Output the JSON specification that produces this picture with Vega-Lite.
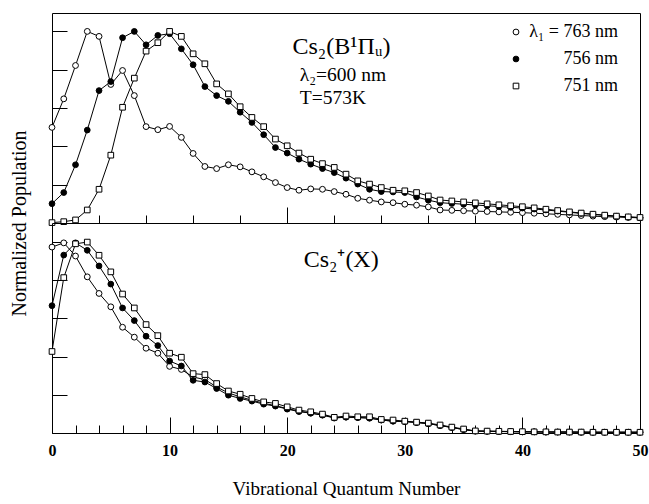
{
"$schema": "https://vega.github.io/schema/vega-lite/v6.json",
"padding": {"left": 8, "top": 12, "right": 0, "bottom": 0},
"config": {"font": "Liberation Serif", "view": {"stroke": "black", "strokeWidth": 1}, "axis": {"domain": false, "grid": false, "tickColor": "black", "tickWidth": 1}},
"data": {"values": [
{"p":"B","s":"763","v":0,"y":0.499},{"p":"B","s":"763","v":1,"y":0.648},{"p":"B","s":"763","v":2,"y":0.822},{"p":"B","s":"763","v":3,"y":1.0},{"p":"B","s":"763","v":4,"y":0.974},{"p":"B","s":"763","v":5,"y":0.723},{"p":"B","s":"763","v":6,"y":0.796},{"p":"B","s":"763","v":7,"y":0.665},{"p":"B","s":"763","v":8,"y":0.503},{"p":"B","s":"763","v":9,"y":0.487},{"p":"B","s":"763","v":10,"y":0.504},{"p":"B","s":"763","v":11,"y":0.447},{"p":"B","s":"763","v":12,"y":0.363},{"p":"B","s":"763","v":13,"y":0.295},{"p":"B","s":"763","v":14,"y":0.284},{"p":"B","s":"763","v":15,"y":0.304},{"p":"B","s":"763","v":16,"y":0.293},{"p":"B","s":"763","v":17,"y":0.267},{"p":"B","s":"763","v":18,"y":0.241},{"p":"B","s":"763","v":19,"y":0.211},{"p":"B","s":"763","v":20,"y":0.185},{"p":"B","s":"763","v":21,"y":0.171},{"p":"B","s":"763","v":22,"y":0.178},{"p":"B","s":"763","v":23,"y":0.176},{"p":"B","s":"763","v":24,"y":0.164},{"p":"B","s":"763","v":25,"y":0.150},{"p":"B","s":"763","v":26,"y":0.129},{"p":"B","s":"763","v":27,"y":0.119},{"p":"B","s":"763","v":28,"y":0.110},{"p":"B","s":"763","v":29,"y":0.106},{"p":"B","s":"763","v":30,"y":0.098},{"p":"B","s":"763","v":31,"y":0.093},{"p":"B","s":"763","v":32,"y":0.084},{"p":"B","s":"763","v":33,"y":0.068},{"p":"B","s":"763","v":34,"y":0.066},{"p":"B","s":"763","v":35,"y":0.064},{"p":"B","s":"763","v":36,"y":0.062},{"p":"B","s":"763","v":37,"y":0.060},{"p":"B","s":"763","v":38,"y":0.058},{"p":"B","s":"763","v":39,"y":0.056},{"p":"B","s":"763","v":40,"y":0.054},{"p":"B","s":"763","v":41,"y":0.051},{"p":"B","s":"763","v":42,"y":0.048},{"p":"B","s":"763","v":43,"y":0.045},{"p":"B","s":"763","v":44,"y":0.042},{"p":"B","s":"763","v":45,"y":0.039},{"p":"B","s":"763","v":46,"y":0.036},{"p":"B","s":"763","v":47,"y":0.033},{"p":"B","s":"763","v":48,"y":0.031},{"p":"B","s":"763","v":49,"y":0.029},{"p":"B","s":"763","v":50,"y":0.027},
{"p":"B","s":"756","v":0,"y":0.101},{"p":"B","s":"756","v":1,"y":0.159},{"p":"B","s":"756","v":2,"y":0.304},{"p":"B","s":"756","v":3,"y":0.485},{"p":"B","s":"756","v":4,"y":0.691},{"p":"B","s":"756","v":5,"y":0.738},{"p":"B","s":"756","v":6,"y":0.967},{"p":"B","s":"756","v":7,"y":1.0},{"p":"B","s":"756","v":8,"y":0.93},{"p":"B","s":"756","v":9,"y":0.979},{"p":"B","s":"756","v":10,"y":0.988},{"p":"B","s":"756","v":11,"y":0.909},{"p":"B","s":"756","v":12,"y":0.826},{"p":"B","s":"756","v":13,"y":0.712},{"p":"B","s":"756","v":14,"y":0.665},{"p":"B","s":"756","v":15,"y":0.635},{"p":"B","s":"756","v":16,"y":0.578},{"p":"B","s":"756","v":17,"y":0.525},{"p":"B","s":"756","v":18,"y":0.461},{"p":"B","s":"756","v":19,"y":0.394},{"p":"B","s":"756","v":20,"y":0.365},{"p":"B","s":"756","v":21,"y":0.333},{"p":"B","s":"756","v":22,"y":0.307},{"p":"B","s":"756","v":23,"y":0.284},{"p":"B","s":"756","v":24,"y":0.263},{"p":"B","s":"756","v":25,"y":0.234},{"p":"B","s":"756","v":26,"y":0.203},{"p":"B","s":"756","v":27,"y":0.176},{"p":"B","s":"756","v":28,"y":0.164},{"p":"B","s":"756","v":29,"y":0.162},{"p":"B","s":"756","v":30,"y":0.159},{"p":"B","s":"756","v":31,"y":0.136},{"p":"B","s":"756","v":32,"y":0.119},{"p":"B","s":"756","v":33,"y":0.106},{"p":"B","s":"756","v":34,"y":0.102},{"p":"B","s":"756","v":35,"y":0.098},{"p":"B","s":"756","v":36,"y":0.094},{"p":"B","s":"756","v":37,"y":0.090},{"p":"B","s":"756","v":38,"y":0.086},{"p":"B","s":"756","v":39,"y":0.082},{"p":"B","s":"756","v":40,"y":0.078},{"p":"B","s":"756","v":41,"y":0.073},{"p":"B","s":"756","v":42,"y":0.068},{"p":"B","s":"756","v":43,"y":0.062},{"p":"B","s":"756","v":44,"y":0.056},{"p":"B","s":"756","v":45,"y":0.050},{"p":"B","s":"756","v":46,"y":0.045},{"p":"B","s":"756","v":47,"y":0.040},{"p":"B","s":"756","v":48,"y":0.035},{"p":"B","s":"756","v":49,"y":0.031},{"p":"B","s":"756","v":50,"y":0.028},
{"p":"B","s":"751","v":0,"y":0.002},{"p":"B","s":"751","v":1,"y":0.007},{"p":"B","s":"751","v":2,"y":0.016},{"p":"B","s":"751","v":3,"y":0.068},{"p":"B","s":"751","v":4,"y":0.176},{"p":"B","s":"751","v":5,"y":0.354},{"p":"B","s":"751","v":6,"y":0.604},{"p":"B","s":"751","v":7,"y":0.756},{"p":"B","s":"751","v":8,"y":0.897},{"p":"B","s":"751","v":9,"y":0.941},{"p":"B","s":"751","v":10,"y":1.0},{"p":"B","s":"751","v":11,"y":0.974},{"p":"B","s":"751","v":12,"y":0.883},{"p":"B","s":"751","v":13,"y":0.831},{"p":"B","s":"751","v":14,"y":0.726},{"p":"B","s":"751","v":15,"y":0.674},{"p":"B","s":"751","v":16,"y":0.607},{"p":"B","s":"751","v":17,"y":0.551},{"p":"B","s":"751","v":18,"y":0.503},{"p":"B","s":"751","v":19,"y":0.438},{"p":"B","s":"751","v":20,"y":0.403},{"p":"B","s":"751","v":21,"y":0.365},{"p":"B","s":"751","v":22,"y":0.333},{"p":"B","s":"751","v":23,"y":0.31},{"p":"B","s":"751","v":24,"y":0.29},{"p":"B","s":"751","v":25,"y":0.255},{"p":"B","s":"751","v":26,"y":0.22},{"p":"B","s":"751","v":27,"y":0.203},{"p":"B","s":"751","v":28,"y":0.185},{"p":"B","s":"751","v":29,"y":0.171},{"p":"B","s":"751","v":30,"y":0.168},{"p":"B","s":"751","v":31,"y":0.159},{"p":"B","s":"751","v":32,"y":0.141},{"p":"B","s":"751","v":33,"y":0.12},{"p":"B","s":"751","v":34,"y":0.115},{"p":"B","s":"751","v":35,"y":0.110},{"p":"B","s":"751","v":36,"y":0.105},{"p":"B","s":"751","v":37,"y":0.100},{"p":"B","s":"751","v":38,"y":0.095},{"p":"B","s":"751","v":39,"y":0.090},{"p":"B","s":"751","v":40,"y":0.085},{"p":"B","s":"751","v":41,"y":0.079},{"p":"B","s":"751","v":42,"y":0.072},{"p":"B","s":"751","v":43,"y":0.065},{"p":"B","s":"751","v":44,"y":0.058},{"p":"B","s":"751","v":45,"y":0.052},{"p":"B","s":"751","v":46,"y":0.046},{"p":"B","s":"751","v":47,"y":0.041},{"p":"B","s":"751","v":48,"y":0.036},{"p":"B","s":"751","v":49,"y":0.032},{"p":"B","s":"751","v":50,"y":0.029},
{"p":"X","s":"763","v":0,"y":0.974},{"p":"X","s":"763","v":1,"y":0.996},{"p":"X","s":"763","v":2,"y":0.927},{"p":"X","s":"763","v":3,"y":0.818},{"p":"X","s":"763","v":4,"y":0.731},{"p":"X","s":"763","v":5,"y":0.661},{"p":"X","s":"763","v":6,"y":0.554},{"p":"X","s":"763","v":7,"y":0.502},{"p":"X","s":"763","v":8,"y":0.444},{"p":"X","s":"763","v":9,"y":0.418},{"p":"X","s":"763","v":10,"y":0.349},{"p":"X","s":"763","v":11,"y":0.333},{"p":"X","s":"763","v":12,"y":0.293},{"p":"X","s":"763","v":13,"y":0.280},{"p":"X","s":"763","v":14,"y":0.241},{"p":"X","s":"763","v":15,"y":0.210},{"p":"X","s":"763","v":16,"y":0.189},{"p":"X","s":"763","v":17,"y":0.172},{"p":"X","s":"763","v":18,"y":0.156},{"p":"X","s":"763","v":19,"y":0.143},{"p":"X","s":"763","v":20,"y":0.128},{"p":"X","s":"763","v":21,"y":0.115},{"p":"X","s":"763","v":22,"y":0.104},{"p":"X","s":"763","v":23,"y":0.094},{"p":"X","s":"763","v":24,"y":0.081},{"p":"X","s":"763","v":25,"y":0.083},{"p":"X","s":"763","v":26,"y":0.081},{"p":"X","s":"763","v":27,"y":0.078},{"p":"X","s":"763","v":28,"y":0.068},{"p":"X","s":"763","v":29,"y":0.062},{"p":"X","s":"763","v":30,"y":0.060},{"p":"X","s":"763","v":31,"y":0.055},{"p":"X","s":"763","v":32,"y":0.049},{"p":"X","s":"763","v":33,"y":0.039},{"p":"X","s":"763","v":34,"y":0.029},{"p":"X","s":"763","v":35,"y":0.018},{"p":"X","s":"763","v":36,"y":0.010},{"p":"X","s":"763","v":37,"y":0.009},{"p":"X","s":"763","v":38,"y":0.008},{"p":"X","s":"763","v":39,"y":0.007},{"p":"X","s":"763","v":40,"y":0.006},{"p":"X","s":"763","v":41,"y":0.006},{"p":"X","s":"763","v":42,"y":0.005},{"p":"X","s":"763","v":43,"y":0.005},{"p":"X","s":"763","v":44,"y":0.005},{"p":"X","s":"763","v":45,"y":0.004},{"p":"X","s":"763","v":46,"y":0.004},{"p":"X","s":"763","v":47,"y":0.004},{"p":"X","s":"763","v":48,"y":0.004},{"p":"X","s":"763","v":49,"y":0.004},{"p":"X","s":"763","v":50,"y":0.004},
{"p":"X","s":"756","v":0,"y":0.667},{"p":"X","s":"756","v":1,"y":0.932},{"p":"X","s":"756","v":2,"y":0.996},{"p":"X","s":"756","v":3,"y":0.957},{"p":"X","s":"756","v":4,"y":0.875},{"p":"X","s":"756","v":5,"y":0.780},{"p":"X","s":"756","v":6,"y":0.655},{"p":"X","s":"756","v":7,"y":0.589},{"p":"X","s":"756","v":8,"y":0.507},{"p":"X","s":"756","v":9,"y":0.458},{"p":"X","s":"756","v":10,"y":0.377},{"p":"X","s":"756","v":11,"y":0.351},{"p":"X","s":"756","v":12,"y":0.276},{"p":"X","s":"756","v":13,"y":0.267},{"p":"X","s":"756","v":14,"y":0.233},{"p":"X","s":"756","v":15,"y":0.198},{"p":"X","s":"756","v":16,"y":0.181},{"p":"X","s":"756","v":17,"y":0.167},{"p":"X","s":"756","v":18,"y":0.151},{"p":"X","s":"756","v":19,"y":0.141},{"p":"X","s":"756","v":20,"y":0.125},{"p":"X","s":"756","v":21,"y":0.112},{"p":"X","s":"756","v":22,"y":0.104},{"p":"X","s":"756","v":23,"y":0.094},{"p":"X","s":"756","v":24,"y":0.078},{"p":"X","s":"756","v":25,"y":0.083},{"p":"X","s":"756","v":26,"y":0.081},{"p":"X","s":"756","v":27,"y":0.078},{"p":"X","s":"756","v":28,"y":0.068},{"p":"X","s":"756","v":29,"y":0.062},{"p":"X","s":"756","v":30,"y":0.060},{"p":"X","s":"756","v":31,"y":0.055},{"p":"X","s":"756","v":32,"y":0.049},{"p":"X","s":"756","v":33,"y":0.039},{"p":"X","s":"756","v":34,"y":0.029},{"p":"X","s":"756","v":35,"y":0.018},{"p":"X","s":"756","v":36,"y":0.010},{"p":"X","s":"756","v":37,"y":0.009},{"p":"X","s":"756","v":38,"y":0.008},{"p":"X","s":"756","v":39,"y":0.007},{"p":"X","s":"756","v":40,"y":0.006},{"p":"X","s":"756","v":41,"y":0.006},{"p":"X","s":"756","v":42,"y":0.005},{"p":"X","s":"756","v":43,"y":0.005},{"p":"X","s":"756","v":44,"y":0.005},{"p":"X","s":"756","v":45,"y":0.004},{"p":"X","s":"756","v":46,"y":0.004},{"p":"X","s":"756","v":47,"y":0.004},{"p":"X","s":"756","v":48,"y":0.004},{"p":"X","s":"756","v":49,"y":0.004},{"p":"X","s":"756","v":50,"y":0.004},
{"p":"X","s":"751","v":0,"y":0.427},{"p":"X","s":"751","v":1,"y":0.814},{"p":"X","s":"751","v":2,"y":0.991},{"p":"X","s":"751","v":3,"y":1.0},{"p":"X","s":"751","v":4,"y":0.931},{"p":"X","s":"751","v":5,"y":0.844},{"p":"X","s":"751","v":6,"y":0.728},{"p":"X","s":"751","v":7,"y":0.655},{"p":"X","s":"751","v":8,"y":0.568},{"p":"X","s":"751","v":9,"y":0.510},{"p":"X","s":"751","v":10,"y":0.418},{"p":"X","s":"751","v":11,"y":0.397},{"p":"X","s":"751","v":12,"y":0.311},{"p":"X","s":"751","v":13,"y":0.306},{"p":"X","s":"751","v":14,"y":0.259},{"p":"X","s":"751","v":15,"y":0.220},{"p":"X","s":"751","v":16,"y":0.203},{"p":"X","s":"751","v":17,"y":0.181},{"p":"X","s":"751","v":18,"y":0.163},{"p":"X","s":"751","v":19,"y":0.155},{"p":"X","s":"751","v":20,"y":0.137},{"p":"X","s":"751","v":21,"y":0.120},{"p":"X","s":"751","v":22,"y":0.111},{"p":"X","s":"751","v":23,"y":0.099},{"p":"X","s":"751","v":24,"y":0.082},{"p":"X","s":"751","v":25,"y":0.089},{"p":"X","s":"751","v":26,"y":0.085},{"p":"X","s":"751","v":27,"y":0.085},{"p":"X","s":"751","v":28,"y":0.071},{"p":"X","s":"751","v":29,"y":0.068},{"p":"X","s":"751","v":30,"y":0.062},{"p":"X","s":"751","v":31,"y":0.057},{"p":"X","s":"751","v":32,"y":0.052},{"p":"X","s":"751","v":33,"y":0.042},{"p":"X","s":"751","v":34,"y":0.031},{"p":"X","s":"751","v":35,"y":0.021},{"p":"X","s":"751","v":36,"y":0.011},{"p":"X","s":"751","v":37,"y":0.010},{"p":"X","s":"751","v":38,"y":0.009},{"p":"X","s":"751","v":39,"y":0.008},{"p":"X","s":"751","v":40,"y":0.007},{"p":"X","s":"751","v":41,"y":0.006},{"p":"X","s":"751","v":42,"y":0.006},{"p":"X","s":"751","v":43,"y":0.005},{"p":"X","s":"751","v":44,"y":0.005},{"p":"X","s":"751","v":45,"y":0.005},{"p":"X","s":"751","v":46,"y":0.004},{"p":"X","s":"751","v":47,"y":0.004},{"p":"X","s":"751","v":48,"y":0.004},{"p":"X","s":"751","v":49,"y":0.004},{"p":"X","s":"751","v":50,"y":0.004}
]},
"spacing": 0,
"bounds": "flush",
"resolve": {"legend": {"shape": "independent", "fill": "independent", "size": "independent"}},
"vconcat": [
{
 "width": 588, "height": 210,
 "layer": [
  {"transform": [{"filter": "datum.p === 'B'"}],
   "mark": {"type": "line", "color": "black", "strokeWidth": 1},
   "encoding": {
    "x": {"field": "v", "type": "quantitative", "scale": {"domain": [0, 50], "nice": false, "zero": false},
      "axis": {"title": null, "labels": false, "values": [0,2,4,6,8,10,12,14,16,18,20,22,24,26,28,30,32,34,36,38,40,42,44,46,48,50],
        "tickSize": {"condition": {"test": "datum.value % 10 === 0", "value": -16}, "value": -8}}},
    "y": {"field": "y", "type": "quantitative", "scale": {"domain": [0, 1.096], "nice": false, "zero": false},
      "axis": {"title": "Normalized Population", "titleX": -33, "titleY": 210, "titleFontSize": 20, "titleFontWeight": "normal", "titleFont": "Liberation Serif", "titleBaseline": "middle", "titleAlign": "center",
        "labels": false, "values": [0,0.05,0.1,0.15,0.2,0.25,0.3,0.35,0.4,0.45,0.5,0.55,0.6,0.65,0.7,0.75,0.8,0.85,0.9,0.95,1.0,1.05],
        "tickSize": {"condition": {"test": "abs(datum.value*5 - round(datum.value*5)) < 0.01", "value": -15}, "value": -8}}},
    "detail": {"field": "s"}
   }},
  {"transform": [{"filter": "datum.p === 'B'"}],
   "mark": {"type": "point", "filled": true, "stroke": "black", "strokeWidth": 1, "opacity": 1},
   "encoding": {
    "x": {"field": "v", "type": "quantitative", "scale": {"domain": [0, 50], "nice": false, "zero": false}},
    "y": {"field": "y", "type": "quantitative", "scale": {"domain": [0, 1.096], "nice": false, "zero": false}},
    "shape": {"field": "s", "type": "nominal", "scale": {"domain": ["763", "756", "751"], "range": ["circle", "circle", "square"]},
      "legend": {"title": null, "orient": "none", "legendX": 455, "legendY": 10, "padding": 0,
        "labelExpr": "datum.value === '763' ? 'λ₁ = 763 nm' : datum.value + ' nm'",
        "labelAlign": "right", "labelOffset": 93, "labelFontSize": 18, "labelFont": "Liberation Serif", "labelLimit": 0, "labelColor": "black",
        "symbolStrokeColor": "black", "symbolStrokeWidth": 1, "rowPadding": 9}},
    "fill": {"field": "s", "type": "nominal", "scale": {"domain": ["763", "756", "751"], "range": ["white", "black", "white"]}},
    "size": {"field": "s", "type": "nominal", "scale": {"domain": ["763", "756", "751"], "range": [34, 32, 40]}}
   }},
  {"data": {"values": [{"t": "Cs₂(B¹Πᵤ)"}]},
   "mark": {"type": "text", "align": "left", "baseline": "alphabetic", "fontSize": 24, "font": "Liberation Serif"},
   "encoding": {"x": {"datum": 20.45, "type": "quantitative", "scale": {"domain": [0, 50], "nice": false, "zero": false}},
     "y": {"datum": 0.883, "type": "quantitative", "scale": {"domain": [0, 1.096], "nice": false, "zero": false}},
     "text": {"field": "t"}}},
  {"data": {"values": [{"t": "λ₂=600 nm"}]},
   "mark": {"type": "text", "align": "left", "baseline": "alphabetic", "fontSize": 19.5, "font": "Liberation Serif"},
   "encoding": {"x": {"datum": 21.07, "type": "quantitative", "scale": {"domain": [0, 50], "nice": false, "zero": false}},
     "y": {"datum": 0.743, "type": "quantitative", "scale": {"domain": [0, 1.096], "nice": false, "zero": false}},
     "text": {"field": "t"}}},
  {"data": {"values": [{"t": "T=573K"}]},
   "mark": {"type": "text", "align": "left", "baseline": "alphabetic", "fontSize": 19.5, "font": "Liberation Serif"},
   "encoding": {"x": {"datum": 21.07, "type": "quantitative", "scale": {"domain": [0, 50], "nice": false, "zero": false}},
     "y": {"datum": 0.621, "type": "quantitative", "scale": {"domain": [0, 1.096], "nice": false, "zero": false}},
     "text": {"field": "t"}}}
 ]
},
{
 "width": 588, "height": 210,
 "resolve": {"axis": {"x": "independent"}},
 "layer": [
  {"transform": [{"filter": "datum.p === 'X'"}],
   "mark": {"type": "line", "color": "black", "strokeWidth": 1},
   "encoding": {
    "x": {"field": "v", "type": "quantitative", "scale": {"domain": [0, 50], "nice": false, "zero": false},
      "axis": {"orient": "bottom", "title": "Vibrational Quantum Number", "titleFontSize": 19, "titleFontWeight": "normal", "titleFont": "Liberation Serif", "titlePadding": 21,
        "values": [0,10,20,30,40,50], "labelOverlap": false, "labelFlush": false,
        "labelFont": "Liberation Serif", "labelFontWeight": "bold", "labelFontSize": 16, "labelPadding": 25, "labelColor": "black",
        "tickSize": -16}},
    "y": {"field": "y", "type": "quantitative", "scale": {"domain": [0, 1.1], "nice": false, "zero": false},
      "axis": {"title": null, "labels": false, "values": [0,0.1,0.2,0.3,0.4,0.5,0.6,0.7,0.8,0.9,1.0],
        "tickSize": {"condition": {"test": "abs(datum.value*5 - round(datum.value*5)) < 0.01", "value": -15}, "value": -8}}},
    "detail": {"field": "s"}
   }},
  {"transform": [{"filter": "datum.p === 'X'"}],
   "mark": {"type": "point", "filled": true, "stroke": "black", "strokeWidth": 1, "opacity": 1},
   "encoding": {
    "x": {"field": "v", "type": "quantitative", "scale": {"domain": [0, 50], "nice": false, "zero": false},
      "axis": {"orient": "bottom", "title": null, "labels": false, "tickSize": -8,
        "values": [2,4,6,8,12,14,16,18,22,24,26,28,32,34,36,38,42,44,46,48]}},
    "y": {"field": "y", "type": "quantitative", "scale": {"domain": [0, 1.1], "nice": false, "zero": false}},
    "shape": {"field": "s", "type": "nominal", "scale": {"domain": ["763", "756", "751"], "range": ["circle", "circle", "square"]}, "legend": null},
    "fill": {"field": "s", "type": "nominal", "scale": {"domain": ["763", "756", "751"], "range": ["white", "black", "white"]}, "legend": null},
    "size": {"field": "s", "type": "nominal", "scale": {"domain": ["763", "756", "751"], "range": [34, 32, 40]}, "legend": null}
   }},
  {"data": {"values": [{"t": "Cs₂⁺(X)"}]},
   "mark": {"type": "text", "align": "left", "baseline": "alphabetic", "fontSize": 24, "font": "Liberation Serif"},
   "encoding": {"x": {"datum": 21.4, "type": "quantitative", "scale": {"domain": [0, 50], "nice": false, "zero": false}, "axis": null},
     "y": {"datum": 0.87, "type": "quantitative", "scale": {"domain": [0, 1.1], "nice": false, "zero": false}},
     "text": {"field": "t"}}}
 ]
}
]
}
